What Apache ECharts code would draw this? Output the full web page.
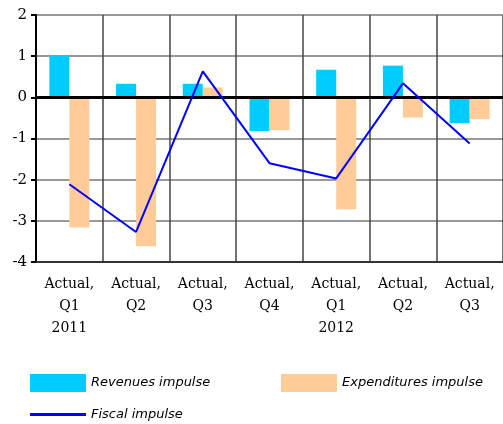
<!DOCTYPE html>
<html>
<head>
<meta charset="utf-8">
<script src="https://cdn.jsdelivr.net/npm/echarts@6/dist/echarts.min.js"></script>
<style>
  html, body { margin: 0; padding: 0; background: #fff; }
  #chart { width: 503px; height: 424px; }
</style>
</head>
<body>
<div id="chart"></div>
<script>
const categories = ['Actual,\nQ1\n2011', 'Actual,\nQ2', 'Actual,\nQ3', 'Actual,\nQ4', 'Actual,\nQ1\n2012', 'Actual,\nQ2', 'Actual,\nQ3'];
const revenues = [1.03, 0.33, 0.33, -0.82, 0.67, 0.77, -0.63];
const expenditures = [-3.16, -3.62, 0.24, -0.8, -2.72, -0.49, -0.53];
const fiscal = [-2.11, -3.27, 0.63, -1.6, -1.97, 0.34, -1.12];

const serif = 'DejaVu Serif';
const legendText = { fontFamily: 'DejaVu Sans', fontStyle: 'italic', fontSize: 13, color: '#000' };
const chart = echarts.init(document.getElementById('chart'));

chart.setOption({
  animation: false,
  grid: { left: 36, right: -2, top: 15, bottom: 162 },
  legend: [
    {
      left: 30, top: 374, padding: 0, itemWidth: 56, itemHeight: 18, icon: 'rect',
      data: ['Revenues impulse'], textStyle: legendText
    },
    {
      left: 281, top: 374, padding: 0, itemWidth: 56, itemHeight: 18, icon: 'rect',
      data: ['Expenditures impulse'], textStyle: legendText
    },
    {
      left: 30, top: 408, padding: 0, itemWidth: 56, itemHeight: 3, icon: 'rect',
      data: ['Fiscal impulse'], textStyle: legendText
    }
  ],
  xAxis: {
    type: 'category',
    data: categories,
    axisLine: { onZero: false, lineStyle: { color: '#333', width: 2 } },
    axisTick: { show: false },
    splitLine: { show: true, lineStyle: { color: '#444', width: 1.5 } },
    axisLabel: { fontFamily: serif, fontSize: 14, color: '#000', lineHeight: 22, margin: 11, interval: 0 }
  },
  yAxis: {
    type: 'value',
    min: -4, max: 2, interval: 1,
    axisLine: { show: true, lineStyle: { color: '#000', width: 2 } },
    axisTick: { show: true, length: 5, lineStyle: { color: '#000', width: 2 } },
    splitLine: { lineStyle: { color: '#777', width: 1.5 } },
    axisLabel: { fontFamily: serif, fontSize: 15, color: '#000', margin: 9 }
  },
  series: [
    {
      name: 'Revenues impulse', type: 'bar', data: revenues,
      barWidth: '30%', barGap: '0%',
      itemStyle: { color: '#00CCFF' },
      markLine: {
        silent: true, symbol: 'none', label: { show: false },
        lineStyle: { color: '#000', width: 3, type: 'solid' },
        data: [{ yAxis: 0 }]
      }
    },
    {
      name: 'Expenditures impulse', type: 'bar', data: expenditures,
      barWidth: '30%', barGap: '0%',
      itemStyle: { color: '#FFCC99' }
    },
    {
      name: 'Fiscal impulse', type: 'line', data: fiscal,
      symbol: 'none', z: 5,
      lineStyle: { color: '#0000FF', width: 2 },
      itemStyle: { color: '#0000FF' }
    }
  ]
});
</script>
</body>
</html>
